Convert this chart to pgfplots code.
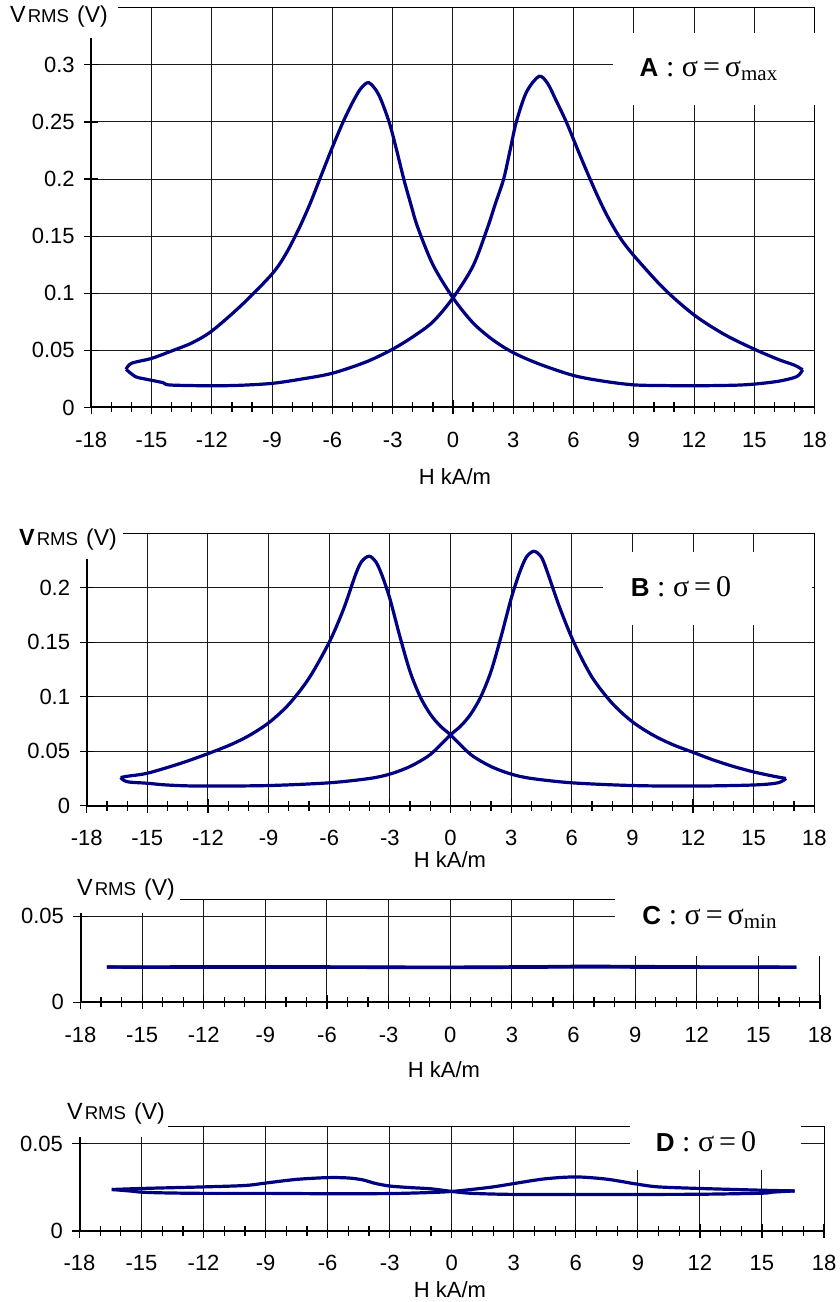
\documentclass[border=0pt]{standalone}
\usepackage{fontspec}
\setmainfont{Liberation Sans}
\newfontfamily\serif{Liberation Serif}
\usepackage{pgfplots}
\pgfplotsset{compat=1.18}
\definecolor{curve}{RGB}{0,0,128}
\newcommand{\tl}{\fontsize{11}{13}\selectfont}
\newcommand{\vrms}[1][]{{\fontsize{11.7}{13}\selectfont #1V}\hspace{1pt}{\fontsize{9.3}{11}\selectfont RMS}\hspace{4pt}{\fontsize{11.5}{13}\selectfont (V)}}
\newcommand{\panel}[2]{{\fontsize{13}{15}\selectfont\bfseries #1}{\serif\fontsize{15}{17}\selectfont\ :\ σ\,=\,#2}}
\newcommand{\sub}[1]{\textsubscript{\fontsize{10.5}{12}\selectfont #1}}
\pgfplotsset{
  panel/.style={
    scale only axis, anchor=south west,
    xmin=-18, xmax=18, ymin=0,
    xtick={-18,-15,-12,-9,-6,-3,0,3,6,9,12,15,18},
    xticklabels={-18,-15,-12,-9,-6,-3,0,3,6,9,12,15,18},
    minor x tick num=2,
    xtick pos=left, ytick pos=left,
    tick align=center,
    major tick length=7pt, minor tick length=5pt,
    grid=major,
    major grid style={black!90, line width=0.5pt},
    axis line style={black, line width=0.5pt},
    tick style={black, line width=0.6pt},
    every tick label/.append style={font=\tl, inner sep=1pt},
    xticklabel style={yshift=-7.6pt},
    yticklabel style={xshift=-3.6pt},
    clip=false,
  },
  crv/.style={curve, line width=1.6pt, smooth, tension=0.5, no marks},
  crvn/.style={curve, line width=1.6pt, no marks},
}
\newcommand{\thick}{\draw[line width=1pt] (rel axis cs:0,1) -- (rel axis cs:0,0) -- (rel axis cs:1,0);}
\begin{document}
\begin{tikzpicture}
\path[use as bounding box] (0,0) rectangle (420pt,651pt);
% ---------------- Panel A
\begin{axis}[panel, at={(45.65pt,447.25pt)}, width=361.7pt, height=199.85pt,
  ymax=0.35, ytick={0,0.05,0.1,0.15,0.2,0.25,0.3},
  yticklabels={0,0.05,0.1,0.15,0.2,0.25,0.3}]
\addplot[crv] coordinates {
(-16.27,0.0334) (-15.8,0.027) (-15.25,0.0247) (-14.42,0.0217) (-14.09,0.0197)
(-12.02,0.019) (-10.5,0.0195) (-8.96,0.0212) (-7.5,0.025) (-6.0,0.030)
(-4.31,0.040) (-3.01,0.051) (-1.99,0.062) (-1,0.075) (0,0.096) (1,0.124)
(1.73,0.158) (2.1,0.178) (2.52,0.2) (2.85,0.226) (3.15,0.25) (3.65,0.276)
(4.28,0.29) (4.7,0.284) (5.1,0.27) (5.64,0.25) (6.2,0.226) (6.7,0.205)
(7.2,0.185) (7.7,0.167) (8.3,0.149) (9,0.133) (10.5,0.104) (12,0.081)
(13.5,0.064) (15,0.051) (16.2,0.042) (17.0,0.037) (17.4,0.033)};
\addplot[crv] coordinates {
(17.4,0.033) (17.1,0.027) (16.2,0.023) (15,0.0205) (14,0.0195)
(12,0.019) (10.5,0.0192) (9,0.0198) (7.5,0.023) (6,0.028) (4.3,0.038)
(3,0.048) (2,0.059) (1,0.074) (0,0.096) (-1,0.125) (-1.76,0.158)
(-2.1,0.178) (-2.45,0.2) (-2.8,0.225) (-3.18,0.25) (-3.7,0.274)
(-4.19,0.2844) (-4.6,0.279) (-5,0.267) (-5.47,0.25) (-6,0.228)
(-6.63,0.2) (-7.1,0.179) (-7.63,0.158) (-8.3,0.135) (-9,0.117)
(-10.5,0.09) (-12,0.067) (-13,0.0565) (-14,0.0495) (-15,0.043)
(-16,0.0387) (-16.27,0.0334)};
\thick
\end{axis}
% ---------------- Panel B
\begin{axis}[panel, at={(43.35pt,248.15pt)}, width=363.8pt, height=136.2pt,
  ymax=0.25, ytick={0,0.05,0.1,0.15,0.2},
  yticklabels={0,0.05,0.1,0.15,0.2}]
\addplot[crv] coordinates {
(-16.32,0.0258) (-16,0.022) (-15,0.0206) (-14.04,0.019) (-12.39,0.018)
(-9,0.0185) (-6,0.021) (-4,0.025) (-3,0.029) (-2,0.036) (-1,0.047) (0,0.065)
(0.5,0.073) (1,0.084) (1.5,0.1) (2,0.123) (2.5,0.155) (3,0.19) (3.4,0.213)
(3.75,0.228) (4.13,0.2335) (4.5,0.228) (4.8,0.214) (5.4,0.182) (6.1,0.15)
(7,0.118) (8,0.094) (9,0.077) (10,0.065) (11,0.056) (12,0.049)
(13,0.042) (14,0.036) (15,0.031) (16,0.027) (16.6,0.025)};
\addplot[crv] coordinates {
(16.6,0.025) (16.2,0.021) (15,0.019) (12,0.018) (9,0.0185) (6,0.021)
(4,0.025) (3,0.029) (2,0.036) (1,0.047) (0,0.065) (-0.5,0.073) (-1,0.084)
(-1.5,0.1) (-2,0.123) (-2.5,0.155) (-3,0.19) (-3.4,0.212) (-3.7,0.224)
(-4.03,0.229) (-4.4,0.224) (-4.7,0.212) (-5.3,0.18) (-6,0.15) (-7,0.117)
(-8,0.093) (-9,0.076) (-10,0.064) (-11,0.055) (-12.39,0.0451)
(-13.5,0.038) (-15,0.0298) (-16,0.027) (-16.32,0.0258)};
\thick
\end{axis}
% ---------------- Panel C
\begin{axis}[panel, at={(40.25pt,149.85pt)}, width=369.75pt, height=51.65pt,
  ymax=0.06, ytick={0,0.05}, yticklabels={0,0.05}]
\addplot[crvn] coordinates {
(-16.72,0.0205) (-15,0.0205) (-13.5,0.0206) (-12,0.0207) (-10.5,0.0206)
(-9,0.0207) (-7.5,0.0206) (-6,0.0206) (-4.5,0.0205) (-3,0.0205) (-1.5,0.0204)
(0,0.0204) (1.5,0.0205) (3,0.0206) (4.5,0.0207) (6,0.0209) (7.5,0.0209)
(9,0.0208) (10.5,0.0207) (12,0.0206) (13.5,0.0205) (15,0.0205) (16.85,0.0204)};
\addplot[crvn] coordinates {
(16.85,0.0204) (15,0.0203) (13.5,0.0203) (12,0.0203) (10.5,0.0204) (9,0.0204)
(7.5,0.0205) (6,0.0205) (4.5,0.0204) (3,0.0203) (1.5,0.0202) (0,0.0202)
(-1.5,0.0202) (-3,0.0202) (-4.5,0.0203) (-6,0.0203) (-7.5,0.0204) (-9,0.0204)
(-10.5,0.0203) (-12,0.0203) (-13.5,0.0203) (-15,0.0203) (-16.72,0.0205)};
\thick
\end{axis}
% ---------------- Panel D
\begin{axis}[panel, at={(39.75pt,35.5pt)}, width=372.25pt, height=52.5pt,
  ymax=0.06, ytick={0,0.05}, yticklabels={0,0.05}]
\addplot[crv] coordinates {
(-16.44,0.0237) (-15.5,0.0228) (-15,0.0222) (-14,0.0218) (-12,0.0215)
(-9,0.0215) (-6,0.0213) (-3,0.0214) (-1,0.022) (0,0.0226) (1,0.0238)
(2,0.0252) (3,0.0271) (4.5,0.0298) (6,0.0309) (7.5,0.0296) (9,0.0267)
(10,0.0252) (12,0.0243) (15,0.0233) (16.58,0.0229)};
\addplot[crv] coordinates {
(16.58,0.0229) (15.5,0.0222) (15,0.0216) (12,0.021) (9,0.0209) (6,0.0209)
(3,0.0209) (1,0.0215) (0,0.0226) (-1,0.0241) (-2,0.0248) (-3,0.0257)
(-3.7,0.0272) (-4.3,0.0292) (-5,0.0303) (-6,0.0305) (-7.5,0.0295) (-9,0.0274)
(-10,0.026) (-12,0.0252) (-15,0.0243) (-16.44,0.0237)};
\thick
\end{axis}
% ---------------- label boxes and texts
\tikzset{lab/.style={inner sep=0pt}}
\fill[white] (0pt,632pt) rectangle (59pt,651pt);
\node[lab] at (29.5pt,642.5pt) {\vrms};
\fill[white] (306.5pt,598.5pt) rectangle (420pt,634.5pt);
\node[lab] at (354.5pt,616pt) {\panel{A}{σ\sub{max}}};
\node[lab] at (227.5pt,412.65pt) {\tl H kA/m};

\fill[white] (0pt,371.5pt) rectangle (61.5pt,392pt);
\node[lab] at (34pt,381pt) {\vrms[\bfseries]};
\fill[white] (301.5pt,338.5pt) rectangle (406pt,375pt);
\node[lab] at (340.5pt,357.65pt) {\panel{B}{0}};
\node[lab] at (225pt,221pt) {\tl H kA/m};

\fill[white] (35pt,194.5pt) rectangle (90pt,215pt);
\node[lab] at (63pt,206pt) {\vrms};
\fill[white] (307.5pt,173pt) rectangle (420pt,215pt);
\node[lab] at (355pt,192.35pt) {\panel{C}{σ\sub{min}}};
\node[lab] at (222pt,116pt) {\tl H kA/m};

\fill[white] (30pt,82.5pt) rectangle (84pt,101pt);
\node[lab] at (58pt,94pt) {\vrms};
\fill[white] (315pt,66pt) rectangle (400.5pt,93.5pt);
\node[lab] at (353pt,80.15pt) {\panel{D}{0}};
\node[lab] at (225pt,6pt) {\tl H kA/m};
\end{tikzpicture}
\end{document}
